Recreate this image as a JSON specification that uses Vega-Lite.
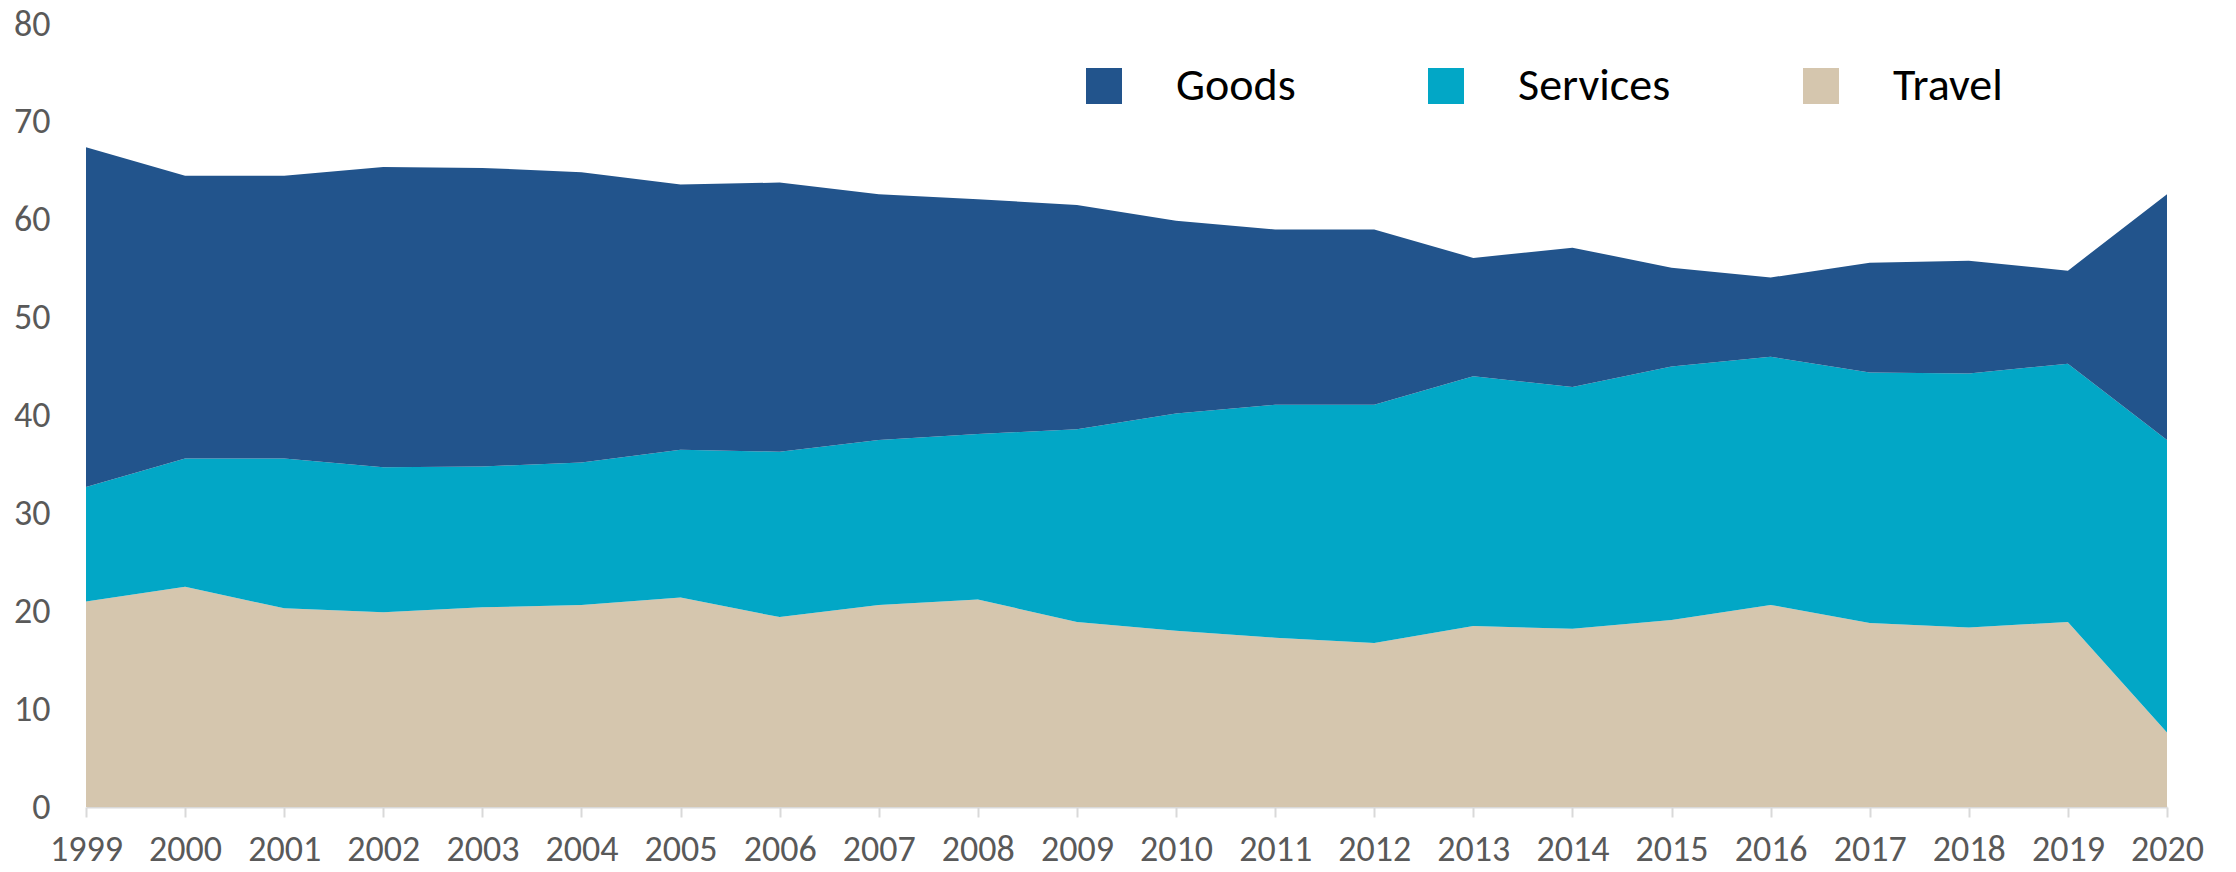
{
  "$schema": "https://vega.github.io/schema/vega-lite/v6.json",
  "autosize": {"type": "none"},
  "width": 2081,
  "height": 783,
  "padding": {"left": 86, "top": 24, "right": 69, "bottom": 65},
  "background": "white",
  "config": {
    "view": {"stroke": null},
    "font": "Carlito, Liberation Sans Narrow, DejaVu Sans Condensed, sans-serif"
  },
  "data": {
    "values": [
      {"year": "1999", "series": "Travel", "value": 21.0},
      {"year": "1999", "series": "Services", "value": 11.7},
      {"year": "1999", "series": "Goods", "value": 34.7},
      {"year": "2000", "series": "Travel", "value": 22.5},
      {"year": "2000", "series": "Services", "value": 13.1},
      {"year": "2000", "series": "Goods", "value": 28.9},
      {"year": "2001", "series": "Travel", "value": 20.3},
      {"year": "2001", "series": "Services", "value": 15.3},
      {"year": "2001", "series": "Goods", "value": 28.9},
      {"year": "2002", "series": "Travel", "value": 19.9},
      {"year": "2002", "series": "Services", "value": 14.8},
      {"year": "2002", "series": "Goods", "value": 30.7},
      {"year": "2003", "series": "Travel", "value": 20.4},
      {"year": "2003", "series": "Services", "value": 14.4},
      {"year": "2003", "series": "Goods", "value": 30.5},
      {"year": "2004", "series": "Travel", "value": 20.65},
      {"year": "2004", "series": "Services", "value": 14.55},
      {"year": "2004", "series": "Goods", "value": 29.65},
      {"year": "2005", "series": "Travel", "value": 21.4},
      {"year": "2005", "series": "Services", "value": 15.1},
      {"year": "2005", "series": "Goods", "value": 27.1},
      {"year": "2006", "series": "Travel", "value": 19.4},
      {"year": "2006", "series": "Services", "value": 16.9},
      {"year": "2006", "series": "Goods", "value": 27.5},
      {"year": "2007", "series": "Travel", "value": 20.65},
      {"year": "2007", "series": "Services", "value": 16.85},
      {"year": "2007", "series": "Goods", "value": 25.1},
      {"year": "2008", "series": "Travel", "value": 21.2},
      {"year": "2008", "series": "Services", "value": 16.9},
      {"year": "2008", "series": "Goods", "value": 24.0},
      {"year": "2009", "series": "Travel", "value": 18.9},
      {"year": "2009", "series": "Services", "value": 19.7},
      {"year": "2009", "series": "Goods", "value": 22.9},
      {"year": "2010", "series": "Travel", "value": 18.0},
      {"year": "2010", "series": "Services", "value": 22.2},
      {"year": "2010", "series": "Goods", "value": 19.7},
      {"year": "2011", "series": "Travel", "value": 17.3},
      {"year": "2011", "series": "Services", "value": 23.8},
      {"year": "2011", "series": "Goods", "value": 17.9},
      {"year": "2012", "series": "Travel", "value": 16.75},
      {"year": "2012", "series": "Services", "value": 24.35},
      {"year": "2012", "series": "Goods", "value": 17.9},
      {"year": "2013", "series": "Travel", "value": 18.5},
      {"year": "2013", "series": "Services", "value": 25.5},
      {"year": "2013", "series": "Goods", "value": 12.1},
      {"year": "2014", "series": "Travel", "value": 18.2},
      {"year": "2014", "series": "Services", "value": 24.7},
      {"year": "2014", "series": "Goods", "value": 14.25},
      {"year": "2015", "series": "Travel", "value": 19.1},
      {"year": "2015", "series": "Services", "value": 25.9},
      {"year": "2015", "series": "Goods", "value": 10.1},
      {"year": "2016", "series": "Travel", "value": 20.65},
      {"year": "2016", "series": "Services", "value": 25.35},
      {"year": "2016", "series": "Goods", "value": 8.1},
      {"year": "2017", "series": "Travel", "value": 18.8},
      {"year": "2017", "series": "Services", "value": 25.6},
      {"year": "2017", "series": "Goods", "value": 11.2},
      {"year": "2018", "series": "Travel", "value": 18.35},
      {"year": "2018", "series": "Services", "value": 25.95},
      {"year": "2018", "series": "Goods", "value": 11.5},
      {"year": "2019", "series": "Travel", "value": 18.9},
      {"year": "2019", "series": "Services", "value": 26.4},
      {"year": "2019", "series": "Goods", "value": 9.5},
      {"year": "2020", "series": "Travel", "value": 7.6},
      {"year": "2020", "series": "Services", "value": 29.9},
      {"year": "2020", "series": "Goods", "value": 25.1}
    ]
  },
  "mark": {"type": "area", "interpolate": "linear", "opacity": 1},
  "encoding": {
    "x": {
      "field": "year",
      "type": "ordinal",
      "scale": {"type": "point", "padding": 0},
      "axis": {
        "title": null,
        "labelAngle": 0,
        "labelFontSize": 36,
        "labelColor": "#595959",
        "domainColor": "#d9d9d9",
        "domainWidth": 2,
        "tickColor": "#d9d9d9",
        "tickWidth": 2,
        "tickSize": 10,
        "labelPadding": 15,
        "grid": false
      }
    },
    "y": {
      "field": "value",
      "type": "quantitative",
      "stack": "zero",
      "scale": {"domain": [0, 80], "nice": false},
      "axis": {
        "title": null,
        "values": [0, 10, 20, 30, 40, 50, 60, 70, 80],
        "labelFontSize": 36,
        "labelColor": "#595959",
        "domain": false,
        "ticks": false,
        "tickSize": 0,
        "grid": false,
        "labelPadding": 36
      }
    },
    "color": {
      "field": "series",
      "type": "nominal",
      "scale": {
        "domain": ["Goods", "Services", "Travel"],
        "range": ["#22548C", "#02A7C6", "#D5C6AE"]
      },
      "legend": {
        "orient": "none",
        "legendX": 995,
        "legendY": 39,
        "direction": "horizontal",
        "title": null,
        "symbolType": "square",
        "symbolSize": 1296,
        "symbolStrokeWidth": 0,
        "symbolOpacity": 1,
        "labelFontSize": 46,
        "labelColor": "black",
        "labelOffset": 49,
        "labelLimit": 500,
        "columnPadding": 127,
        "padding": 0
      }
    },
    "order": {"field": "series", "type": "ordinal", "sort": "descending"}
  }
}
